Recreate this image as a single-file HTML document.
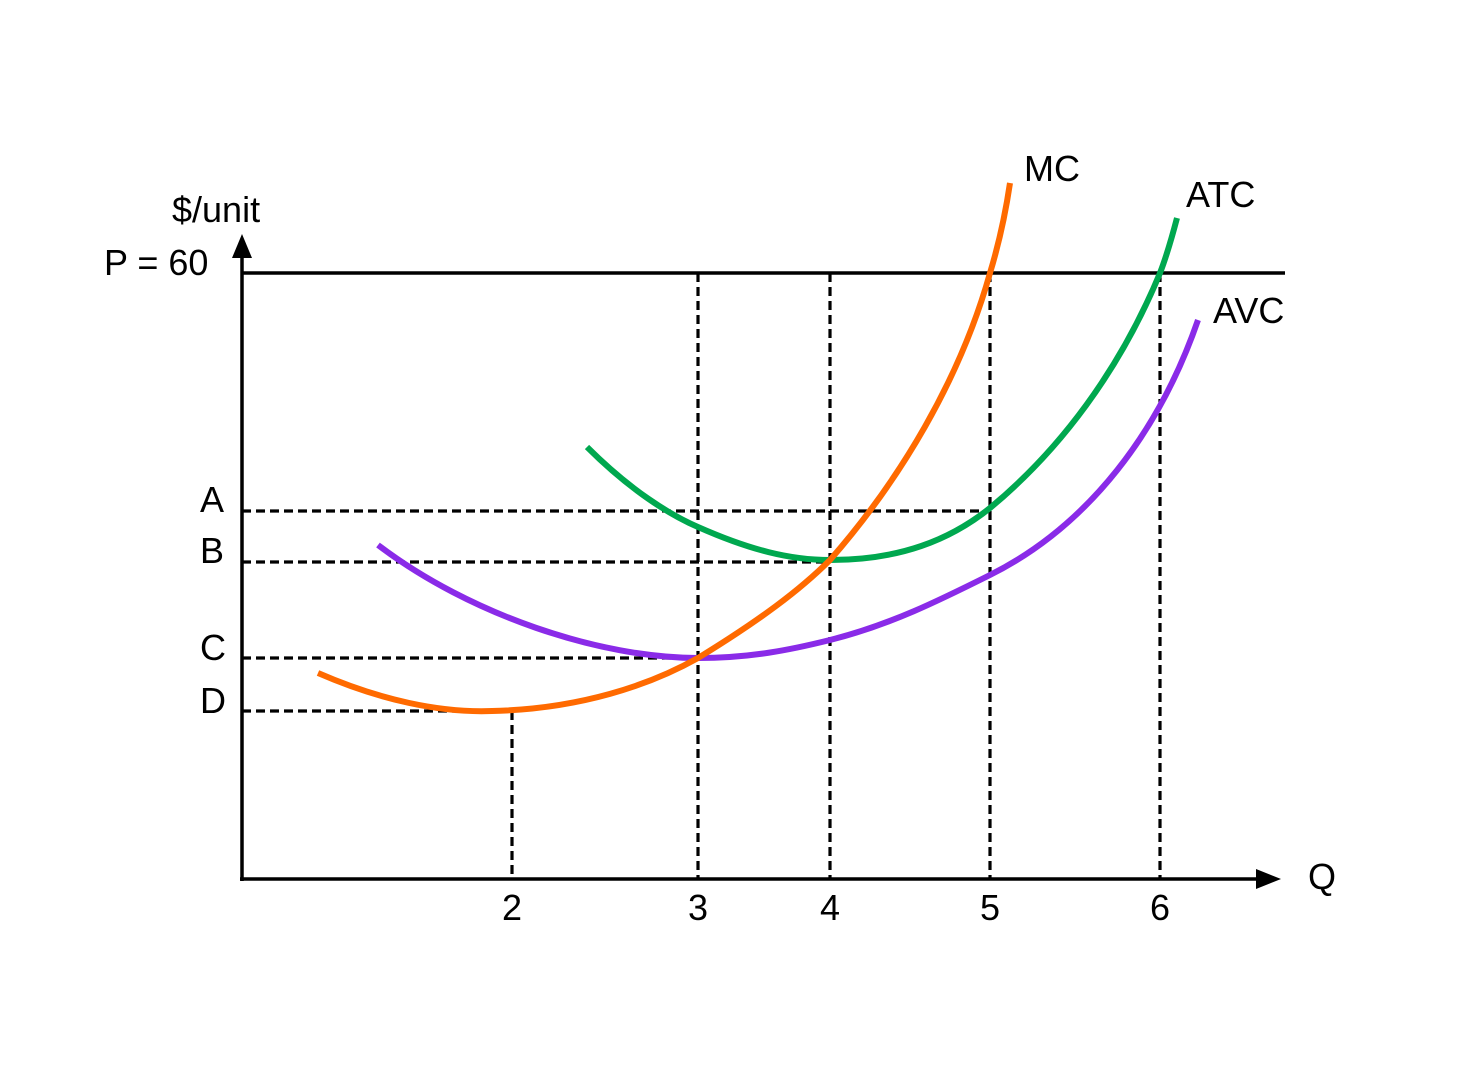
<!DOCTYPE html>
<html><head><meta charset="utf-8"><style>
html,body{margin:0;padding:0;background:#fff;}
svg{display:block;}
text{font-family:"Liberation Sans",sans-serif;font-size:36px;fill:#000;}
</style></head><body>
<svg width="1473" height="1080" viewBox="0 0 1473 1080" xmlns="http://www.w3.org/2000/svg">
<g stroke="#000" stroke-width="3.2" stroke-dasharray="9,5" fill="none">
<line x1="242" y1="511" x2="990" y2="511"/>
<line x1="242" y1="562" x2="830" y2="562"/>
<line x1="242" y1="658" x2="698" y2="658"/>
<line x1="242" y1="711" x2="512" y2="711"/>
<line x1="512" y1="711" x2="512" y2="879"/>
<line x1="698" y1="273" x2="698" y2="879"/>
<line x1="830" y1="273" x2="830" y2="879"/>
<line x1="990" y1="273" x2="990" y2="879"/>
<line x1="1160" y1="273" x2="1160" y2="879"/>
</g>
<g stroke="#000" stroke-width="3.5" fill="none">
<line x1="242" y1="252" x2="242" y2="881"/>
<line x1="240" y1="879" x2="1262" y2="879"/>
<line x1="242" y1="273" x2="1285" y2="273"/>
</g>
<polygon points="242,234 232,258 252,258" fill="#000"/>
<polygon points="1281,879 1256,869 1256,889" fill="#000"/>
<g fill="none" stroke-width="6" stroke-linecap="butt">
<path stroke="#00a84f" d="M587,447 C630,490 670,515 698,527 C750,550 790,560 830,560 C900,560 950,540 990,508 C1060,450 1120,370 1160,273 C1167,255 1172,237 1177,218"/>
<path stroke="#8a2be8" d="M378,545 C470,615 600,658 698,658 C750,658 790,650 830,640 C890,625 940,600 990,575 C1090,525 1160,430 1198,320"/>
<path stroke="#ff6a00" d="M318,673 C380,700 440,713 492,711 C580,709 650,685 698,658 C760,620 800,590 830,560 C900,480 960,380 990,273 C1000,240 1006,210 1010,183"/>
</g>
<text x="172" y="222">$/unit</text>
<text x="104" y="275">P = 60</text>
<text x="200" y="512">A</text>
<text x="200" y="563">B</text>
<text x="200" y="660">C</text>
<text x="200" y="713">D</text>
<g text-anchor="middle">
<text x="512" y="920">2</text>
<text x="698" y="920">3</text>
<text x="830" y="920">4</text>
<text x="990" y="920">5</text>
<text x="1160" y="920">6</text>
</g>
<text x="1308" y="889">Q</text>
<text x="1024" y="181">MC</text>
<text x="1186" y="207">ATC</text>
<text x="1213" y="323">AVC</text>
</svg>
</body></html>
